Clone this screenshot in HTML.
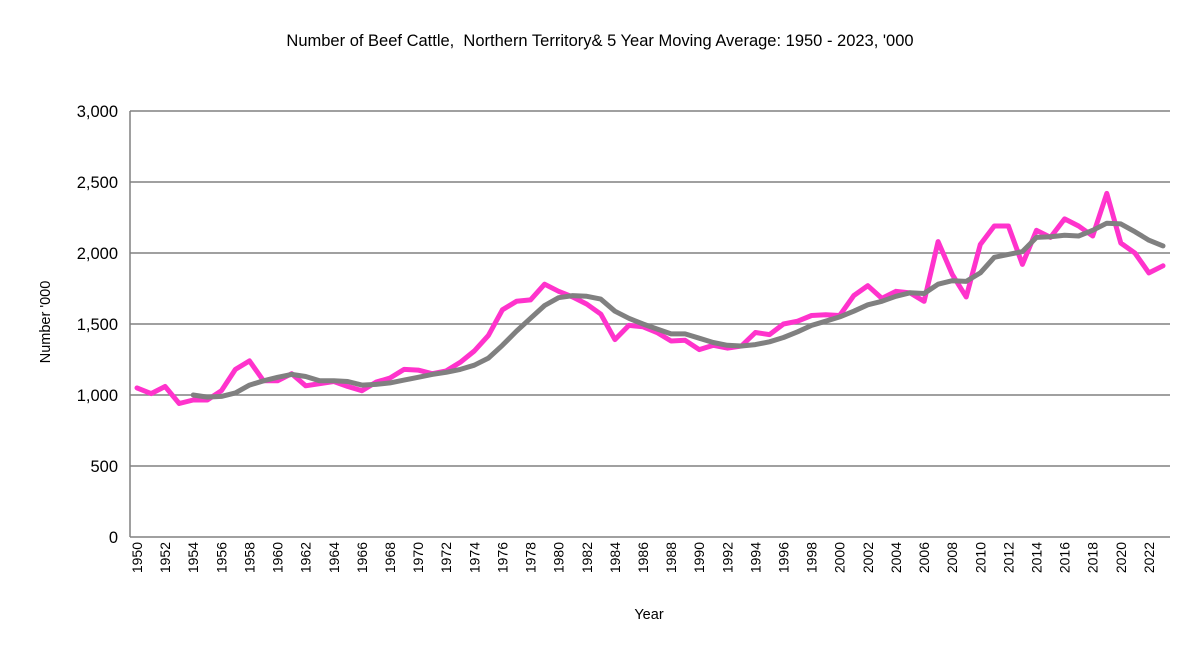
<!DOCTYPE html>
<html><head><meta charset="utf-8"><style>
body{margin:0;background:#fff;font-family:"Liberation Sans",Arial,sans-serif}
svg text{font-family:"Liberation Sans",Arial,sans-serif;fill:#000}
</style></head><body>
<svg id="chart" width="1195" height="666" xmlns="http://www.w3.org/2000/svg">
<text x="600" y="46" font-size="16.5" text-anchor="middle">Number of Beef Cattle,&#160; Northern Territory&amp; 5 Year Moving Average: 1950 - 2023, '000</text>
<text transform="translate(50,322) rotate(-90)" font-size="14.5" text-anchor="middle">Number '000</text>
<text x="649" y="619" font-size="14.5" text-anchor="middle">Year</text>
<g id="grid"></g><g id="series"></g><g id="axes"></g>
</svg>
<script>
const years=[];for(let y=1950;y<=2023;y++)years.push(y);
const cattle=[1050,1010,1060,940,965,965,1030,1180,1240,1100,1100,1150,1065,1080,1095,1060,1030,1090,1120,1180,1175,1150,1170,1230,1310,1420,1600,1660,1670,1780,1730,1690,1640,1570,1390,1490,1480,1440,1380,1385,1320,1350,1330,1345,1440,1425,1500,1520,1560,1565,1560,1700,1770,1680,1730,1720,1660,2080,1850,1690,2060,2190,2190,1920,2160,2110,2240,2190,2120,2420,2070,2000,1860,1910];
const movingAvg=[null,null,null,null,1000,985,990,1015,1070,1100,1125,1145,1130,1100,1100,1095,1070,1075,1085,1105,1125,1145,1160,1180,1210,1260,1350,1450,1540,1630,1685,1700,1695,1675,1590,1540,1500,1465,1430,1430,1400,1370,1350,1345,1355,1375,1405,1445,1490,1520,1550,1590,1635,1660,1695,1720,1715,1780,1805,1800,1860,1970,1990,2010,2110,2115,2125,2120,2160,2210,2205,2150,2090,2050];
const yTicks=[0,500,1000,1500,2000,2500,3000];
const NS="http://www.w3.org/2000/svg";
const x0=130,x1=1170,yTop=111,yBot=537;
const step=(x1-x0)/years.length;
const xs=i=>x0+step*(i+0.5);
const ys=v=>yBot-(v/3000)*(yBot-yTop);
function mk(t,a,p){const e=document.createElementNS(NS,t);for(const k in a)e.setAttribute(k,a[k]);p.appendChild(e);return e;}
const grid=document.getElementById('grid'),axes=document.getElementById('axes'),ser=document.getElementById('series');
yTicks.forEach(v=>{
 if(v>0){const l=mk('line',{x1:x0,x2:x1,y1:ys(v),y2:ys(v),stroke:'#808080','stroke-width':1.5},grid);
 
 }
 const t=mk('text',{x:118,y:ys(v)+6,'font-size':16.5,'text-anchor':'end'},axes);
 t.textContent=v.toLocaleString('en-US');
 
 
});
const ax=mk('line',{x1:x0,x2:x0,y1:yTop,y2:yBot,stroke:'#808080','stroke-width':1.5},axes);


const bx=mk('line',{x1:x0,x2:x1,y1:yBot,y2:yBot,stroke:'#808080','stroke-width':1.5},axes);


years.forEach((yr,i)=>{
 if(yr%2===0){const t=mk('text',{transform:`translate(${xs(i)+5},${yBot+5}) rotate(-90)`,'font-size':14,'text-anchor':'end'},axes);
 t.textContent=yr;
 
 }
});
function line(arr,color,name){let d='';arr.forEach((v,i)=>{if(v==null)return;d+=(d?'L':'M')+xs(i).toFixed(1)+','+ys(v).toFixed(1);});
 const p=mk('path',{d:d,fill:'none',stroke:color,'stroke-width':5,'stroke-linejoin':'round','stroke-linecap':'round'},ser);
 
 }
line(cattle,'#ff33cc','cattle-series-line');
line(movingAvg,'#808080','moving-average-line');
</script>
</body></html>
